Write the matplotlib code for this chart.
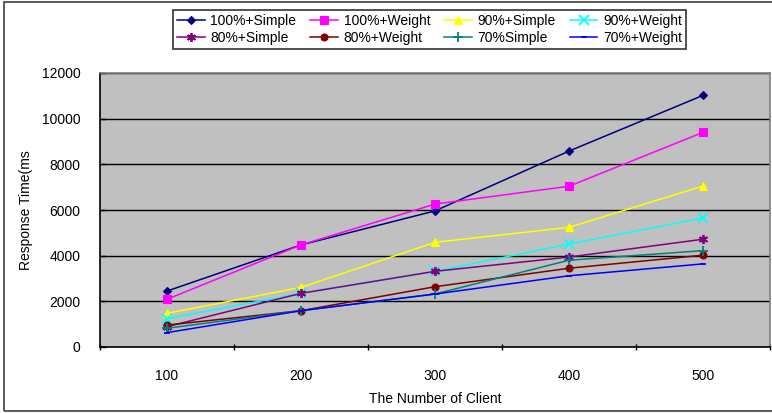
import matplotlib
matplotlib.use("Agg")
import matplotlib.pyplot as plt
from matplotlib.patches import Rectangle

plt.rcParams['font.family'] = ['Liberation Sans', 'DejaVu Sans']

categories = ["100", "200", "300", "400", "500"]
labels = ["100%+Simple", "100%+Weight", "90%+Simple", "90%+Weight",
          "80%+Simple", "80%+Weight", "70%Simple", "70%+Weight"]
s100_simple = [2450, 4470, 5960, 8580, 11020]
s100_weight = [2090, 4470, 6260, 7040, 9400]
s90_simple = [1475, 2610, 4585, 5240, 7050]
s90_weight = [1240, 2350, 3315, 4510, 5650]
s80_simple = [890, 2350, 3315, 3940, 4720]
s80_weight = [960, 1590, 2640, 3450, 4020]
s70_simple = [820, 1590, 2320, 3800, 4220]
s70_weight = [630, 1590, 2320, 3120, 3640]
series = [s100_simple, s100_weight, s90_simple, s90_weight,
          s80_simple, s80_weight, s70_simple, s70_weight]
yticks = [0, 2000, 4000, 6000, 8000, 10000, 12000]

colors = ["#000080", "#FF00FF", "#FFFF00", "#00FFFF",
          "#800080", "#800000", "#008080", "#0000FF"]
markers = ["D", "s", "^", "x", (6, 2, 0), "o", "+", "_"]
msizes = [4, 5.5, 6, 6.5, 6.5, 5, 6.5, 5]

W, H = 772, 413
fig = plt.figure(figsize=(W / 100, H / 100), dpi=100)
ax = fig.add_axes([100 / W, 1 - 347 / H, 670 / W, 274 / H])
ax.set_facecolor("#C0C0C0")

x = list(range(1, len(categories) + 1))
handles = []
for vals, c, m, ms, lab in zip(series, colors, markers, msizes, labels):
    thin = m in ("x", "+", "_") or isinstance(m, tuple)
    h, = ax.plot(x, vals, color=c, marker=m, markersize=ms, linewidth=1.1,
                 markeredgewidth=1.3 if thin else 0.8,
                 markeredgecolor=c, markerfacecolor=c, label=lab)
    handles.append(h)

ax.set_xlim(0.5, 5.5)
ax.set_ylim(0, 12000)
ax.set_yticks(yticks)
ax.set_yticklabels([str(v) for v in yticks], fontsize=10)
ax.set_xticks(x)
ax.set_xticklabels(categories, fontsize=10)
ax.set_xticks([0.5 + i for i in range(6)], minor=True)
ax.tick_params(axis='x', which='major', length=0, pad=16)
ax.tick_params(axis='x', which='minor', length=4, direction='inout', width=1)
ax.tick_params(axis='y', which='major', length=4, direction='in', width=1, pad=14)
ax.yaxis.grid(True, color="#000000", linewidth=1)
ax.set_axisbelow(True)
for s in ("top", "right"):
    ax.spines[s].set_color("#808080")
    ax.spines[s].set_linewidth(1.2)
for s in ("left", "bottom"):
    ax.spines[s].set_color("#000000")
    ax.spines[s].set_linewidth(1.2)

ax.set_ylabel("Response Time(ms", fontsize=10, labelpad=6)
ax.set_xlabel("The Number of Client", fontsize=10, labelpad=6)

# legend: row-wise order with 4 columns
order = [0, 4, 1, 5, 2, 6, 3, 7]
leg = fig.legend([handles[i] for i in order], [labels[i] for i in order],
                 ncol=4, loc="upper left", bbox_to_anchor=(166 / W, 1 - 3 / H),
                 fontsize=10, frameon=True, fancybox=False, handlelength=2.0,
                 columnspacing=1.0, handletextpad=0.4, borderpad=0.3,
                 labelspacing=0.2, edgecolor="#000000")
leg.get_frame().set_linewidth(1.2)

# outer figure border
fig.patches.append(Rectangle((4 / W, 2 / H), 1, 1 - 4 / H, transform=fig.transFigure,
                             fill=False, edgecolor="#404040", linewidth=1.2))

fig.savefig("out.png", dpi=100)
